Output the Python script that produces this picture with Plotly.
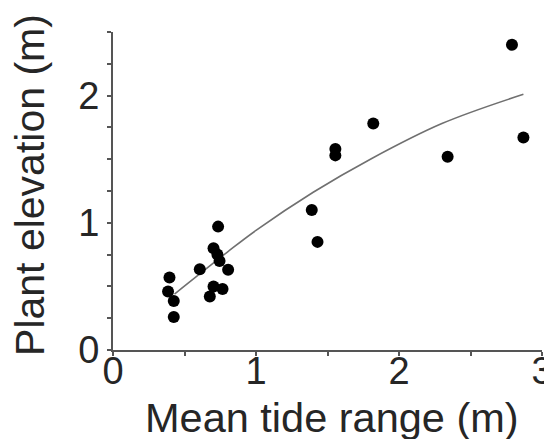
import plotly.graph_objects as go

# Observations: mean tide range (m) vs plant elevation (m)
tide_range = [2.79, 2.87, 2.34, 1.82, 1.555, 1.555, 1.39, 1.43,
              0.735, 0.703, 0.73, 0.745, 0.805, 0.607, 0.395, 0.385,
              0.425, 0.425, 0.703, 0.766, 0.677]
plant_elev = [2.40, 1.67, 1.52, 1.78, 1.58, 1.53, 1.10, 0.85,
              0.97, 0.80, 0.75, 0.70, 0.63, 0.635, 0.57, 0.46,
              0.385, 0.26, 0.50, 0.48, 0.42]

# Fitted curve
fit_x = [0.43, 0.80, 1.00, 1.40, 1.80, 2.30, 2.87]
fit_y = [0.44, 0.77, 0.94, 1.24, 1.50, 1.78, 2.01]

x_ticks = [0, 1, 2, 3]
y_ticks = [0, 1, 2]

x_title = "Mean tide range (m)"
y_title = "Plant elevation (m)"

FONT = "Liberation Sans, Arial, sans-serif"
AX = "#555555"
TXT = "#262626"

fig = go.Figure()
fig.add_trace(go.Scatter(x=fit_x, y=fit_y, mode="lines",
                         line=dict(color="#707070", width=1.6, shape="spline"),
                         hoverinfo="skip", showlegend=False))
fig.add_trace(go.Scatter(x=tide_range, y=plant_elev, mode="markers",
                         marker=dict(color="black", size=12),
                         showlegend=False))

fig.update_layout(
    width=544, height=431,
    margin=dict(l=105, r=10, t=24, b=89),
    paper_bgcolor="white", plot_bgcolor="white",
    font=dict(family=FONT, color=TXT, size=38),
)
fig.update_xaxes(
    range=[0, 3], tickvals=x_ticks, showgrid=False, zeroline=False,
    showline=True, linecolor=AX, linewidth=2,
    ticks="outside", ticklen=4, tickcolor=AX, tickwidth=1.5,
    minor=dict(dtick=0.5, ticks="outside", ticklen=4, tickcolor=AX, tickwidth=1.5),
    tickfont=dict(size=38), ticklabelstandoff=-18, ticklabeloverflow="allow",
    automargin=False,
)
fig.update_yaxes(
    range=[0, 2.5], tickvals=y_ticks, showgrid=False, zeroline=False,
    showline=True, linecolor=AX, linewidth=2,
    ticks="outside", ticklen=4, tickcolor=AX, tickwidth=1.5,
    minor=dict(dtick=0.25, ticks="outside", ticklen=4, tickcolor=AX, tickwidth=1.5),
    tickfont=dict(size=38),
    automargin=False,
)

fig.add_annotation(text=x_title, xref="paper", yref="paper", x=0.51, y=0,
                   xanchor="center", yanchor="middle", yshift=-67,
                   showarrow=False, font=dict(size=41.5, color=TXT))
fig.add_annotation(text=y_title, xref="paper", yref="paper", x=0, y=0.519,
                   xanchor="center", yanchor="middle", xshift=-83,
                   textangle=-90, showarrow=False, font=dict(size=41, color=TXT))

fig.write_html("out.html")
